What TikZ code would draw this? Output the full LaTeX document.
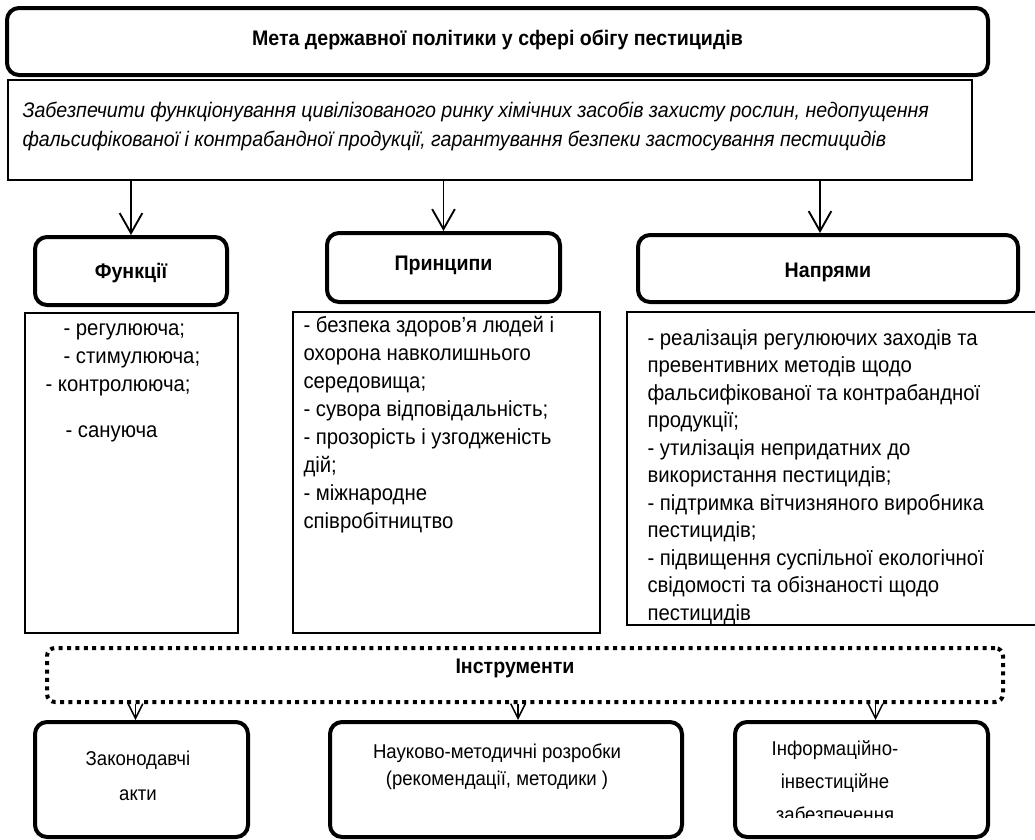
\documentclass[tikz,border=0pt]{standalone}
\usepackage{fontspec}
\setmainfont{Liberation Sans}[FakeStretch=0.93]
\usetikzlibrary{fit,arrows.meta}

\tikzset{every picture/.style={line width=0.75pt}}
\tikzset{
  boldbox/.style={draw, line width=3pt, rounded corners=9pt, inner sep=0pt},
  thinbox/.style={draw, line width=0.8pt, inner sep=0pt},
  dotbox/.style={draw, line width=3pt, dash pattern=on 3pt off 3.3pt, rounded corners=6pt, inner sep=0pt},
  txt/.style={inner sep=0pt, font=\fontsize{16.4}{21}\selectfont},
  hdr/.style={inner sep=0pt, font=\fontsize{15.8}{21}\selectfont\bfseries},
  bigarr/.style={-{Straight Barb[length=15pt,width=17pt]}, line width=1.4pt},
  smallarr/.style={-{Straight Barb[length=11pt,width=11pt]}, line width=1.1pt},
}

\begin{document}
\begin{tikzpicture}[x=0.75pt,y=0.75pt,yscale=-1,xscale=1]
\useasboundingbox (0,0) rectangle (1035,839);
\clip (0,0) rectangle (1035,839);

%Shape: Rounded Rect [goal]
\node[boldbox, fit={(7,8) (988,75)}] (goal) {};
\node[hdr] (goaltext) at ([yshift=-1pt]goal) {Мета державної політики у сфері обігу пестицидів};

%Shape: Rectangle [aim]
\node[thinbox, fit={(8,80) (972,180)}] (aim) {};
% Text Node
\node[txt, font=\fontsize{15.8}{21.75}\selectfont\itshape, align=left, anchor=north west] (aimtext) at (22,102) {Забезпечити функціонування цивілізованого ринку хімічних засобів захисту рослин, недопущення\\фальсифікованої і контрабандної продукції, гарантування безпеки застосування пестицидів};

%Shape: Rounded Rect [headings]
\node[boldbox, fit={(35,237) (227,305)}] (fun) {};
\node[boldbox, fit={(327,233) (560,302)}] (pri) {};
\node[boldbox, fit={(638,235) (1018,302)}] (dir) {};
\node[hdr] (funtext) at ([yshift=1.5pt]fun) {Функції};
\node[hdr] (pritext) at ([yshift=-1.9pt]pri) {Принципи};
\node[hdr] (dirtext) at ([yshift=2.6pt]dir) {Напрями};

%Straight Lines
\draw[bigarr] (aim.south -| fun.north) -- (fun.north);
\draw[bigarr] (aim.south -| pri.north) -- (pri.north);
\draw[bigarr] ([xshift=-6pt]aim.south -| dir.north) -- ([xshift=-6pt]dir.north);

%Shape: Rectangle [lists]
\node[thinbox, fit={(25,313) (238,633)}] (funlist) {};
\node[thinbox, fit={(293,312) (600,633)}] (prilist) {};
\node[thinbox, fit={(627,312) (1045,625)}] (dirlist) {};

% Text Node
\node[txt, anchor=west] (f1) at (63,332) {- регулююча;};
\node[txt, anchor=west] (f2) at (63,360) {- стимулююча;};
\node[txt, anchor=west] (f3) at (45,388) {- контролююча;};
\node[txt, anchor=west] (f4) at (65,434) {- сануюча};
% Text Node
\node[txt, align=left, anchor=north west] (prilines) at (303,316) {- безпека здоров’я людей і\\охорона навколишнього\\середовища;\\- сувора відповідальність;\\- прозорість і узгодженість\\дій;\\- міжнародне\\співробітництво};
% Text Node
\node[txt, font=\fontsize{16.4}{20.6}\selectfont, align=left, anchor=north west] (dirlines) at (647,329) {- реалізація регулюючих заходів та\\превентивних методів щодо\\фальсифікованої та контрабандної\\продукції;\\- утилізація непридатних до\\використання пестицидів;\\- підтримка вітчизняного виробника\\пестицидів;\\- підвищення суспільної екологічної\\свідомості та обізнаності щодо\\пестицидів};

%Shape: Dotted Rounded Rect [tools]
\node[dotbox, fit={(47,648) (1003,702)}] (tools) {};
\node[hdr] (toolstext) at (515,668) {Інструменти};

%Shape: Rounded Rect [instruments]
\node[boldbox, fit={(35,722) (248,837)}] (leg) {};
\node[boldbox, fit={(330,722) (682,837)}] (meth) {};
\node[boldbox, fit={(735,722) (988,837)}] (info) {};

%Straight Lines
\draw[smallarr] ([xshift=-4.5pt]tools.south -| leg.north) -- ([xshift=-4.5pt]leg.north);
\draw[smallarr] ([xshift=9pt]tools.south -| meth.north) -- ([xshift=9pt]meth.north);
\draw[smallarr] ([xshift=10.5pt]tools.south -| info.north) -- ([xshift=10.5pt]info.north);

% Text Node
\node[txt, font=\fontsize{15}{26.25}\selectfont, align=center] (legtext) at (138,776) {Законодавчі\\акти};
\node[txt, font=\fontsize{15}{20.25}\selectfont, align=center] (methtext) at (497,767) {Науково-методичні розробки\\(рекомендації, методики )};
\begin{scope}
\clip (735,722) rectangle (988,817);
\node[txt, font=\fontsize{15}{24.75}\selectfont, align=center] (infotext) at (835,781) {Інформаційно-\\інвестиційне\\забезпечення};
\end{scope}

\end{tikzpicture}
\end{document}
